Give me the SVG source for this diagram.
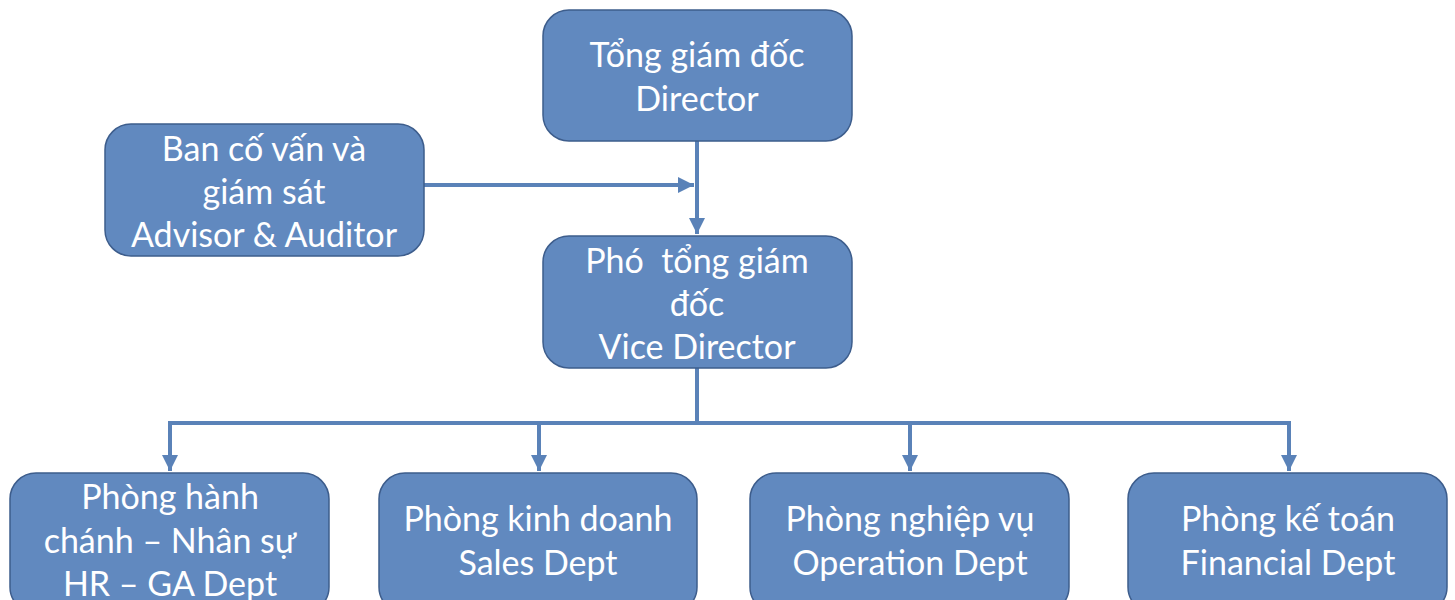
<svg xmlns="http://www.w3.org/2000/svg" width="1455" height="600" viewBox="0 0 1455 600">
<defs>
<style>
.box{fill:#6189bf;stroke:#3d5d8c;stroke-width:1.5}
.t{font-family:Lato,"Open Sans","Liberation Sans",sans-serif;font-size:34px;fill:#ffffff;text-anchor:middle}
.c{fill:none;stroke:#5a82b8;stroke-width:4}
</style>
<marker id="ah" viewBox="0 0 10 10" refX="10" refY="5" markerWidth="4" markerHeight="4" orient="auto" markerUnits="strokeWidth">
<path d="M0,0 L10,5 L0,10 z" fill="#5a82b8"/>
</marker>
</defs>
<rect width="1455" height="600" fill="#ffffff"/>
<g id="connectors">
<path class="c" d="M697,141 V234" marker-end="url(#ah)"/>
<path class="c" d="M424,185 H694" marker-end="url(#ah)"/>
<path class="c" d="M697,368 V423"/>
<path class="c" d="M170,423 H1289"/>
<path class="c" d="M170,421 V471" marker-end="url(#ah)"/>
<path class="c" d="M539,423 V471" marker-end="url(#ah)"/>
<path class="c" d="M910,423 V471" marker-end="url(#ah)"/>
<path class="c" d="M1289,421 V471" marker-end="url(#ah)"/>
</g>
<g id="director">
<rect class="box" x="543" y="10" width="309" height="131" rx="26"/>
<text class="t" x="697" y="67">Tổng giám đốc</text>
<text class="t" x="697" y="111">Director</text>
</g>
<g id="advisor">
<rect class="box" x="105" y="124" width="319" height="132" rx="26"/>
<text class="t" x="264" y="161">Ban cố vấn và</text>
<text class="t" x="264" y="204">giám sát</text>
<text class="t" x="264" y="247">Advisor &amp; Auditor</text>
</g>
<g id="vice">
<rect class="box" x="543" y="236" width="309" height="132" rx="26"/>
<text class="t" x="697" y="273" xml:space="preserve">Phó  tổng giám</text>
<text class="t" x="697" y="316">đốc</text>
<text class="t" x="697" y="359">Vice Director</text>
</g>
<g id="hr">
<rect class="box" x="10" y="473" width="319" height="140" rx="26"/>
<text class="t" x="170" y="509">Phòng hành</text>
<text class="t" x="170" y="553">chánh – Nhân sự</text>
<text class="t" x="170" y="596">HR – GA Dept</text>
</g>
<g id="sales">
<rect class="box" x="379" y="473" width="318" height="140" rx="26"/>
<text class="t" x="538" y="531">Phòng kinh doanh</text>
<text class="t" x="538" y="575">Sales Dept</text>
</g>
<g id="operation">
<rect class="box" x="750" y="473" width="319" height="140" rx="26"/>
<text class="t" x="910" y="531">Phòng nghiệp vụ</text>
<text class="t" x="910" y="575">Operation Dept</text>
</g>
<g id="financial">
<rect class="box" x="1128" y="473" width="319" height="140" rx="26"/>
<text class="t" x="1288" y="531">Phòng kế toán</text>
<text class="t" x="1288" y="575">Financial Dept</text>
</g>
</svg>
